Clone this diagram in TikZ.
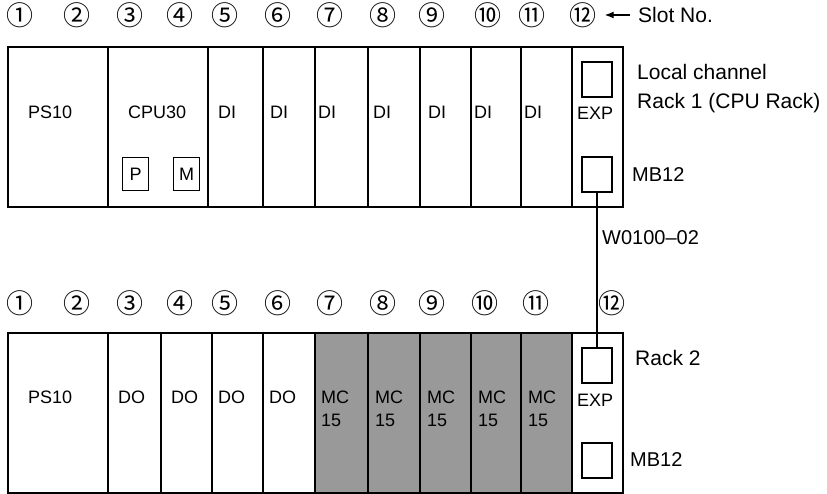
\documentclass[tikz,border=0pt]{standalone}
\usepackage{fontspec}
\setmainfont{Liberation Sans}
\newfontfamily\circfont{Noto Sans CJK JP}
\usetikzlibrary{arrows.meta}

\begin{document}
\begin{tikzpicture}[
        x=1pt, y=-1pt,
        slot/.style={draw, line width=1.6pt, anchor=north west, minimum height=160pt, inner sep=0pt, outer sep=0pt},
        mcslot/.style={slot, fill=black!40},
        port/.style={draw, line width=1.3pt, anchor=north west, minimum width=30pt, minimum height=35pt, inner sep=0pt, outer sep=0pt},
        key/.style={draw, line width=1.3pt, anchor=north west, minimum width=26pt, minimum height=33pt, inner sep=0pt, font=\fontsize{18}{18}\selectfont},
        lbl/.style={anchor=west, inner sep=0pt, align=left, font=\fontsize{18}{23}\selectfont},
        side/.style={anchor=west, inner sep=0pt, align=left, font=\fontsize{21}{29}\selectfont},
        cnum/.style={inner sep=0pt, font=\circfont\fontsize{27}{27}\selectfont},
        line/.style={line width=1.3pt}
    ]
        \useasboundingbox (0,0) rectangle (827,494);

        % rack 1 (CPU rack)
        \node[slot, minimum width=100pt] (ra1) at (8,47) {};
        \node[slot, minimum width=100pt] (ra3) at (108,47) {};
        \node[slot, minimum width=55pt] (ra5) at (208,47) {};
        \node[slot, minimum width=52pt] (ra6) at (263,47) {};
        \node[slot, minimum width=53pt, line width=2.8pt] (ra7) at (315,47) {};
        \node[slot, minimum width=52pt] (ra8) at (368,47) {};
        \node[slot, minimum width=51pt] (ra9) at (420,47) {};
        \node[slot, minimum width=50pt] (ra10) at (471,47) {};
        \node[slot, minimum width=51pt] (ra11) at (521,47) {};
        \node[slot, minimum width=51pt] (ra12) at (572,47) {};

        \node[lbl] (ps1) at (28,112) {PS10};
        \node[lbl] (cpu) at (128,112) {CPU30};
        \node[lbl] (di5) at (218,112) {DI};
        \node[lbl] (di6) at (270,112) {DI};
        \node[lbl] (di7) at (318,112) {DI};
        \node[lbl] (di8) at (373,112) {DI};
        \node[lbl] (di9) at (428,112) {DI};
        \node[lbl] (di10) at (474,112) {DI};
        \node[lbl] (di11) at (524,112) {DI};
        \node[lbl] (expa) at (577,113) {EXP};
        \node[key] (pkey) at (122,157) {P};
        \node[key] (mkey) at (173,157) {M};
        \node[port] (exp1) at (582,62) {};
        \node[port] (mb1) at (582,157) {};

        \node[cnum] (a1) at (20,15) {①};
        \node[cnum] (a2) at (77,15) {②};
        \node[cnum] (a3) at (130,15) {③};
        \node[cnum] (a4) at (180,15) {④};
        \node[cnum] (a5) at (225,15) {⑤};
        \node[cnum] (a6) at (278,15) {⑥};
        \node[cnum] (a7) at (330,15) {⑦};
        \node[cnum] (a8) at (383,15) {⑧};
        \node[cnum] (a9) at (432,15) {⑨};
        \node[cnum] (a10) at (488,15) {⑩};
        \node[cnum] (a11) at (532,15) {⑪};
        \node[cnum] (a12) at (583,15) {⑫};

        \node[side] (slotno) at (638,15) {Slot No.};
        \node[side] (rack1) at (637,88.5) {Local channel\\Rack 1 (CPU Rack)};
        \node[side, font=\fontsize{20}{24}\selectfont] (mbl1) at (632,175) {MB12};

        % rack 2
        \node[slot, minimum width=100pt] (rb1) at (8,333) {};
        \node[slot, minimum width=53pt] (rb3) at (108,333) {};
        \node[slot, minimum width=51pt] (rb4) at (161,333) {};
        \node[slot, minimum width=51pt] (rb5) at (212,333) {};
        \node[slot, minimum width=52pt] (rb6) at (263,333) {};
        \node[mcslot, minimum width=53pt] (rb7) at (315,333) {};
        \node[mcslot, minimum width=52pt] (rb8) at (368,333) {};
        \node[mcslot, minimum width=51pt] (rb9) at (420,333) {};
        \node[mcslot, minimum width=50pt] (rb10) at (471,333) {};
        \node[mcslot, minimum width=51pt] (rb11) at (521,333) {};
        \node[slot, minimum width=51pt] (rb12) at (572,333) {};
        \draw[line width=2.8pt] (rb7.north west) -- (rb7.south west);

        \node[lbl] (ps2) at (28,397) {PS10};
        \node[lbl] (do3) at (118,397) {DO};
        \node[lbl] (do4) at (171,397) {DO};
        \node[lbl] (do5) at (218,397) {DO};
        \node[lbl] (do6) at (269,397) {DO};
        \node[lbl] (mc7) at (321,408.5) {MC\\15};
        \node[lbl] (mc8) at (375,408.5) {MC\\15};
        \node[lbl] (mc9) at (427,408.5) {MC\\15};
        \node[lbl] (mc10) at (478,408.5) {MC\\15};
        \node[lbl] (mc11) at (528,408.5) {MC\\15};
        \node[lbl] (expb) at (577,400) {EXP};
        \node[port] (exp2) at (582,348) {};
        \node[port] (mb2) at (582,443) {};

        \node[cnum] (b1) at (20,303) {①};
        \node[cnum] (b2) at (77,303) {②};
        \node[cnum] (b3) at (130,303) {③};
        \node[cnum] (b4) at (180,303) {④};
        \node[cnum] (b5) at (225,303) {⑤};
        \node[cnum] (b6) at (278,303) {⑥};
        \node[cnum] (b7) at (330,303) {⑦};
        \node[cnum] (b8) at (383,303) {⑧};
        \node[cnum] (b9) at (432,303) {⑨};
        \node[cnum] (b10) at (485,303) {⑩};
        \node[cnum] (b11) at (536,303) {⑪};
        \node[cnum] (b12) at (612,303) {⑫};

        \node[side] (rack2) at (635,358) {Rack 2};
        \node[side, font=\fontsize{20}{24}\selectfont] (mbl2) at (630,460) {MB12};
        \node[side, font=\fontsize{20}{24}\selectfont] (cable) at (602,238) {W0100--02};

        \draw[line] (mb1.south) -- (exp2.north);
        \draw[line, -{Latex[length=9pt,width=7pt]}, shorten >=8pt] (slotno.west) ++(-8,0) -- (a12.east);
    \end{tikzpicture}
\end{document}
